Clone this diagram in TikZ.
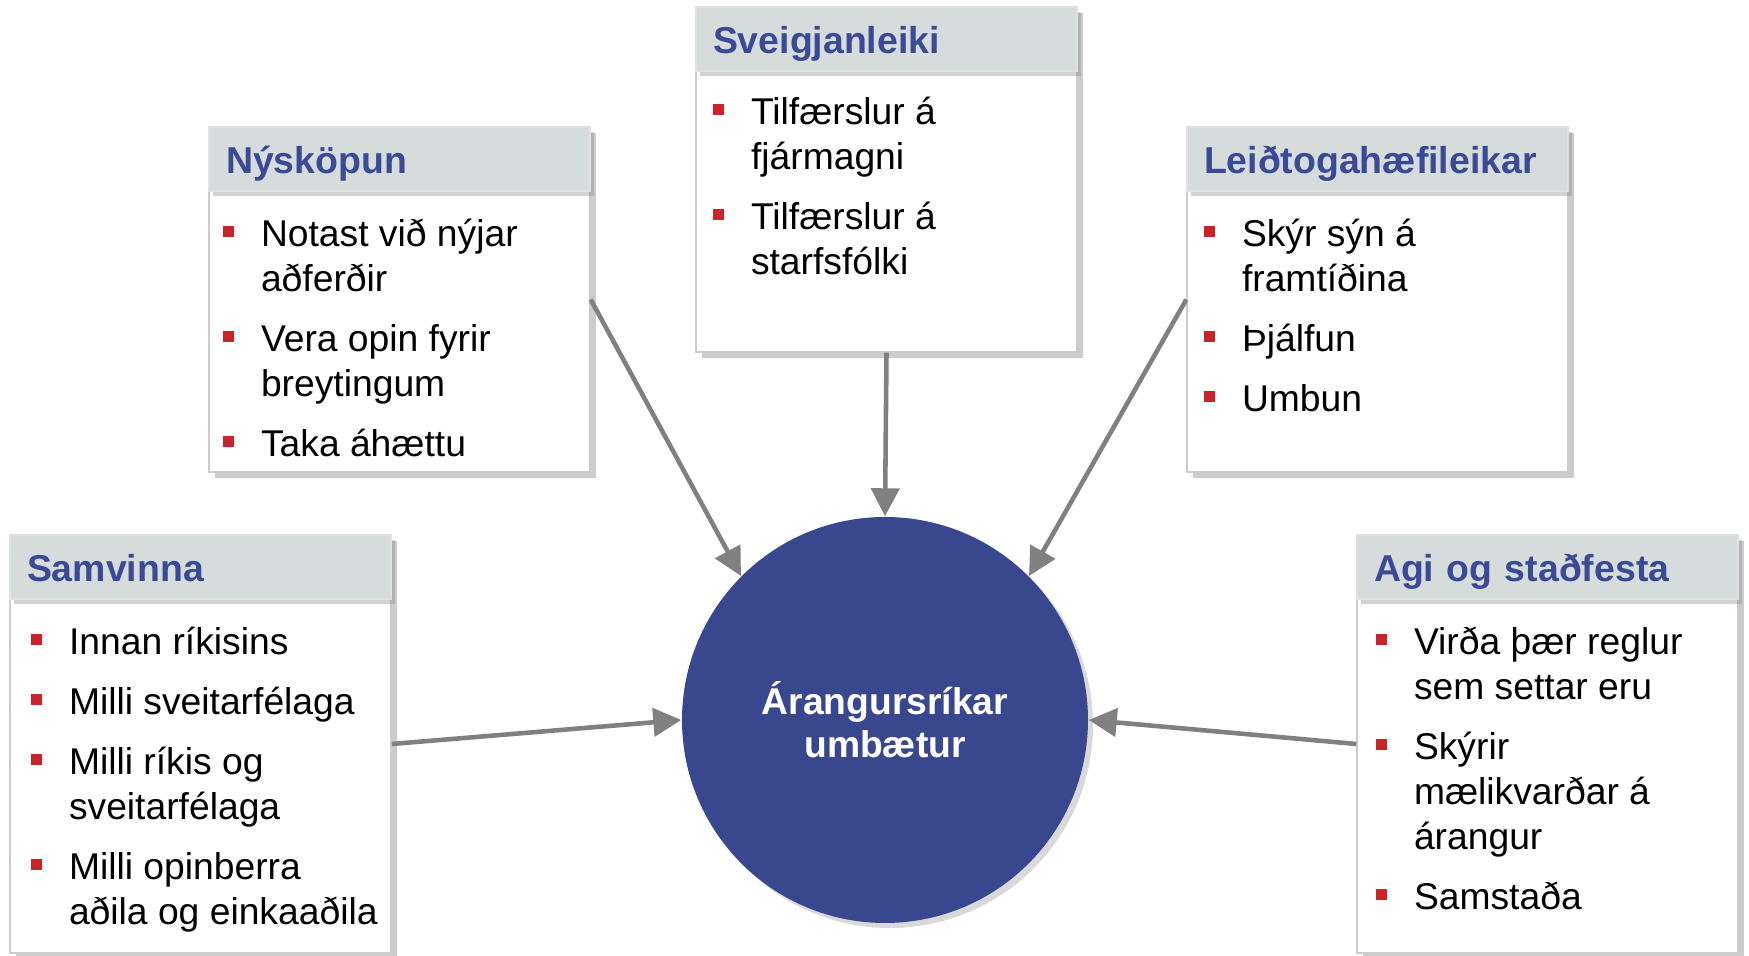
\documentclass[tikz,border=0pt]{standalone}
\usepackage{fontspec}
\setmainfont{Liberation Sans}
\usetikzlibrary{arrows.meta,shadows}

\definecolor{hubblue}{HTML}{39488E}
\definecolor{headblue}{HTML}{3A4A96}
\definecolor{headgray}{HTML}{D6DCDC}
\definecolor{bulred}{HTML}{CC2229}
\definecolor{arrgray}{HTML}{808080}

% bullet, and indent for a second line
\newcommand{\bsq}{\rule{0pt}{9pt}\makebox[0.38cm][l]{\textcolor{bulred}{\rule[0.1cm]{0.11cm}{0.11cm}}}}
\newcommand{\nxt}{\hspace*{0.38cm}}

\begin{document}
\begin{tikzpicture}[
  panel/.style={rectangle, draw=black!20, fill=white, minimum width=3.81cm, inner sep=0pt,
    drop shadow={shadow xshift=0.06cm, shadow yshift=-0.06cm, opacity=0.4}},
  head/.style={rectangle, draw=black!12, fill=headgray, minimum width=3.81cm, minimum height=0.64cm,
    text width=3.47cm, inner xsep=0.17cm, inner ysep=0pt, align=left,
    text height=8.2pt, text depth=0pt, text=headblue,
    font=\fontsize{10.65}{12.8}\selectfont\bfseries,
    drop shadow={shadow xshift=0.04cm, shadow yshift=-0.05cm, opacity=0.35}},
  items/.style={inner sep=0pt, align=left, font=\fontsize{10.6}{12.8}\selectfont},
  hub/.style={circle, fill=hubblue, minimum size=4.06cm, inner sep=0pt, align=center, text=white,
    font=\fontsize{10.6}{12.2}\selectfont\bfseries,
    drop shadow={shadow xshift=0.05cm, shadow yshift=-0.05cm, opacity=0.3}},
  arr/.style={-{Triangle[length=0.28cm,width=0.28cm]}, line width=1.3pt, draw=arrgray}]
\useasboundingbox (0,0) rectangle (17.49,9.56);

% centre
\node [hub] (cent) at (8.85,2.36) {Árangursríkar\\umbætur};

% Nyskopun
\node [panel, minimum height=3.45cm] (nysk) at (3.995,6.565) {};
\node [head, anchor=north] (nyskh) at (nysk.north) {Nýsköpun};
\node [items, anchor=north west] (nyskt) at ([xshift=0.14cm,yshift=-0.88cm]nysk.north west)
  {\bsq Notast við nýjar\\ \nxt aðferðir\\[0.15cm]
   \bsq Vera opin fyrir\\ \nxt breytingum\\[0.15cm]
   \bsq Taka áhættu};

% Sveigjanleiki
\node [panel, minimum height=3.45cm] (sveig) at (8.865,7.765) {};
\node [head, anchor=north] (sveigh) at (sveig.north) {Sveigjanleiki};
\node [items, anchor=north west] (sveigt) at ([xshift=0.17cm,yshift=-0.86cm]sveig.north west)
  {\bsq Tilfærslur á\\ \nxt fjármagni\\[0.15cm]
   \bsq Tilfærslur á\\ \nxt starfsfólki};

% Leidtogahaefileikar
\node [panel, minimum height=3.45cm] (leid) at (13.775,6.565) {};
\node [head, anchor=north] (leidh) at (leid.north) {Leiðtogahæfileikar};
\node [items, anchor=north west] (leidt) at ([xshift=0.17cm,yshift=-0.88cm]leid.north west)
  {\bsq Skýr sýn á\\ \nxt framtíðina\\[0.15cm]
   \bsq Þjálfun\\[0.15cm]
   \bsq Umbun};

% Samvinna
\node [panel, minimum height=4.18cm] (samv) at (2.005,2.12) {};
\node [head, anchor=north] (samvh) at (samv.north) {Samvinna};
\node [items, anchor=north west] (samvt) at ([xshift=0.21cm,yshift=-0.88cm]samv.north west)
  {\bsq Innan ríkisins\\[0.15cm]
   \bsq Milli sveitarfélaga\\[0.15cm]
   \bsq Milli ríkis og\\ \nxt sveitarfélaga\\[0.15cm]
   \bsq Milli opinberra\\ \nxt aðila og einkaaðila};

% Agi og stadfesta
\node [panel, minimum height=4.18cm] (agi) at (15.475,2.12) {};
\node [head, anchor=north] (agih) at (agi.north) {Agi og staðfesta};
\node [items, anchor=north west] (agit) at ([xshift=0.19cm,yshift=-0.88cm]agi.north west)
  {\bsq Virða þær reglur\\ \nxt sem settar eru\\[0.15cm]
   \bsq Skýrir\\ \nxt mælikvarðar á\\ \nxt árangur\\[0.15cm]
   \bsq Samstaða};

% arrows
\draw [arr] (nysk.east) -- (cent.135);
\draw [arr] (sveig.south) -- (cent.north);
\draw [arr] (leid.west) -- (cent.45);
\draw [arr] (samv.east) -- (cent.west);
\draw [arr] (agi.west) -- (cent.east);
\end{tikzpicture}
\end{document}
